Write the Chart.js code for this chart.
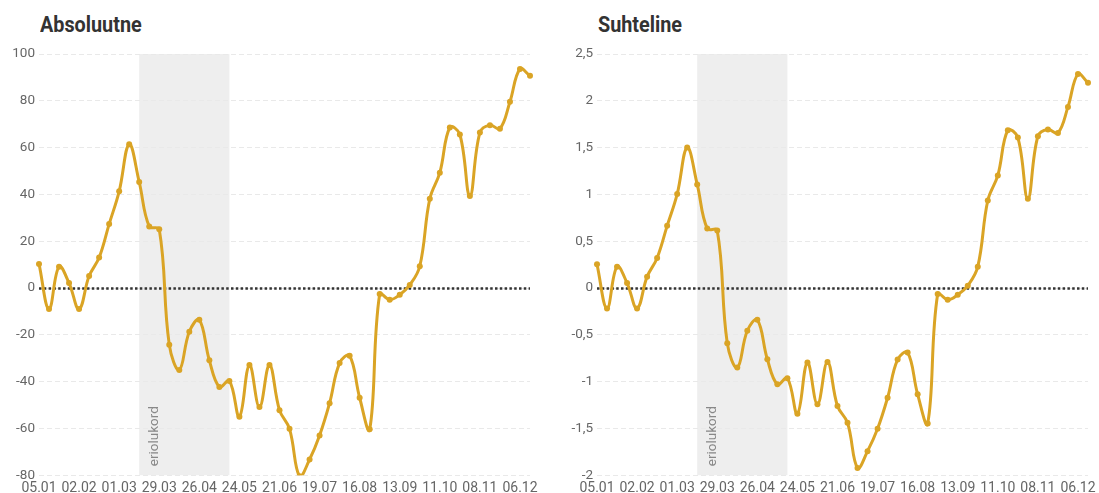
<!DOCTYPE html>
<html>
<head>
<meta charset="utf-8">
<script src="https://cdn.jsdelivr.net/npm/chart.js@4/dist/chart.umd.min.js"></script>
<style>
  html, body { margin: 0; padding: 0; background: #fff; width: 1099px; height: 493px; overflow: hidden; }
  .title { position: absolute; top: 14px; font-family: Roboto, sans-serif; font-weight: 700; font-size: 22px; line-height: 22px; color: #333; transform: scaleX(0.9); transform-origin: left top; white-space: nowrap; }
  canvas { position: absolute; }
</style>
</head>
<body>
<div class="title" style="left:40px">Absoluutne</div>
<div class="title" style="left:598px">Suhteline</div>
<canvas id="c1" width="549" height="467" style="left:0px;top:40px"></canvas>
<canvas id="c2" width="550" height="467" style="left:549px;top:40px"></canvas>
<script>
const weeks = ['05.01','12.01','19.01','26.01','02.02','09.02','16.02','23.02','01.03','08.03',
  '15.03','22.03','29.03','05.04','12.04','19.04','26.04','03.05','10.05','17.05',
  '24.05','31.05','07.06','14.06','21.06','28.06','05.07','12.07','19.07','26.07',
  '02.08','09.08','16.08','23.08','30.08','06.09','13.09','20.09','27.09','04.10',
  '11.10','18.10','25.10','01.11','08.11','15.11','22.11','29.11','06.12','13.12'];

const absoluteValues = [10.3, -9, 9.1, 2.1, -9, 5.1, 13, 27.3, 41.3, 61.4,
  45.3, 26.3, 25.1, -24.2, -35, -18.7, -13.6, -30.9, -42.3, -39.7,
  -55, -32.9, -50.9, -32.9, -52.2, -60.2, -80.4, -73.3, -63, -49.2,
  -32.1, -29, -46.9, -60.4, -2.6, -5, -2.9, 1.3, 9.3, 38.1,
  49.3, 68.6, 65.6, 39.3, 66.4, 69.6, 68.1, 79.6, 93.6, 90.7];

const relativeValues = [0.253, -0.218, 0.228, 0.053, -0.218, 0.121, 0.321, 0.664, 1.003, 1.5,
  1.107, 0.635, 0.614, -0.589, -0.85, -0.457, -0.34, -0.761, -1.029, -0.964,
  -1.343, -0.797, -1.243, -0.79, -1.261, -1.44, -1.922, -1.743, -1.504, -1.172,
  -0.765, -0.69, -1.136, -1.447, -0.064, -0.125, -0.072, 0.025, 0.228, 0.935,
  1.203, 1.685, 1.607, 0.953, 1.621, 1.693, 1.657, 1.935, 2.285, 2.192];

const absoluteTicks = { min: -80, max: 100, step: 20 };
const relativeTicks = { min: -2, max: 2.5, step: 0.5 };

const emergencyStart = '15.03';
const emergencyEnd = '17.05';
const emergencyLabel = 'eriolukord';

const labelEvery = 4;
const lineColor = '#daa425';

const bandPlugin = {
  id: 'band',
  beforeDraw(chart) {
    const x = chart.scales.x, a = chart.chartArea, ctx = chart.ctx;
    const x0 = x.getPixelForValue(weeks.indexOf(emergencyStart));
    const x1 = x.getPixelForValue(weeks.indexOf(emergencyEnd));
    ctx.save();
    ctx.fillStyle = '#eeeeee';
    ctx.fillRect(x0, a.top, x1 - x0, a.bottom - a.top);
    ctx.restore();
  },
  beforeDatasetsDraw(chart) {
    const x = chart.scales.x, y = chart.scales.y, a = chart.chartArea, ctx = chart.ctx;
    const x0 = x.getPixelForValue(weeks.indexOf(emergencyStart));
    ctx.save();
    ctx.translate(x0 + 15, a.bottom - 9);
    ctx.rotate(-Math.PI / 2);
    ctx.fillStyle = '#888';
    ctx.font = '13.5px Roboto';
    ctx.textAlign = 'left';
    ctx.textBaseline = 'middle';
    ctx.fillText(emergencyLabel, 0, 0);
    ctx.restore();
    const yz = Math.round(y.getPixelForValue(0)) + 0.5;
    ctx.save();
    ctx.strokeStyle = '#333';
    ctx.lineWidth = 2.5;
    ctx.setLineDash([2.5, 2.3]);
    ctx.beginPath();
    ctx.moveTo(a.left, yz);
    ctx.lineTo(a.right, yz);
    ctx.stroke();
    ctx.restore();
  }
};

function makeChart(id, values, t, yWidth, padRight) {
  return new Chart(document.getElementById(id), {
    type: 'line',
    data: {
      labels: weeks,
      datasets: [{
        data: values,
        borderColor: lineColor,
        backgroundColor: lineColor,
        borderWidth: 3,
        pointRadius: 3,
        pointBorderWidth: 0,
        pointBackgroundColor: lineColor,
        tension: 0.4,
        fill: false
      }]
    },
    options: {
      responsive: false,
      animation: false,
      devicePixelRatio: 1,
      layout: { padding: { top: 14, right: padRight, bottom: 5, left: 0 } },
      plugins: { legend: { display: false }, tooltip: { enabled: false }, title: { display: false } },
      scales: {
        x: {
          offset: false,
          grid: { display: false, drawTicks: false },
          border: { display: false },
          ticks: {
            autoSkip: false, maxRotation: 0, minRotation: 0, padding: 5,
            color: '#666', font: { family: 'Roboto', size: 14 },
            callback: function (v, i) { return i % labelEvery === 0 ? weeks[i] : ''; }
          }
        },
        y: {
          min: t.min, max: t.max,
          afterFit: function (s) { s.width = yWidth; },
          grid: { color: '#e9e9e9', lineWidth: 1, drawTicks: false },
          border: { display: false, dash: [5, 3] },
          ticks: {
            stepSize: t.step, padding: 4,
            color: '#666', font: { family: 'Roboto', size: 13.5 },
            callback: function (v) { return String(v).replace('.', ','); }
          }
        }
      }
    },
    plugins: [bandPlugin]
  });
}

makeChart('c1', absoluteValues, absoluteTicks, 39, 19);
makeChart('c2', relativeValues, relativeTicks, 48, 11);
</script>
</body>
</html>
